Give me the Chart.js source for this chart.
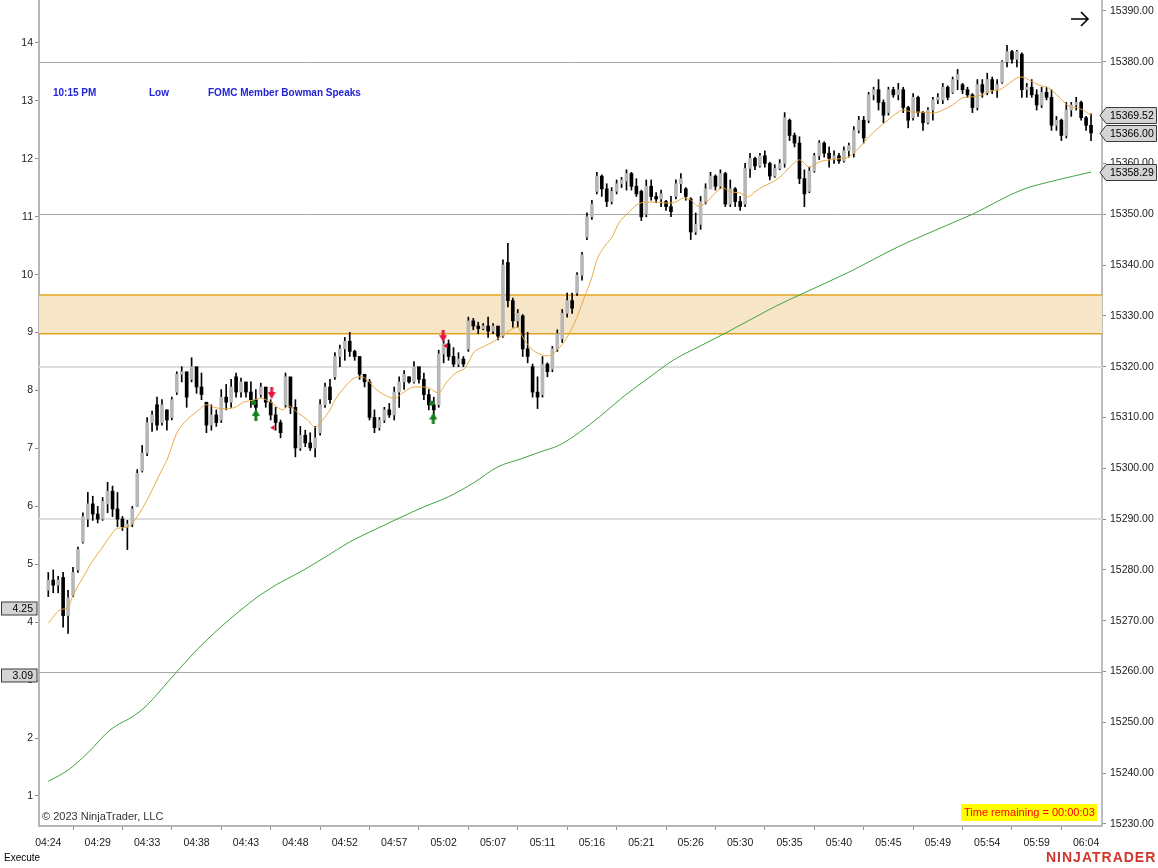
<!DOCTYPE html>
<html>
<head>
<meta charset="utf-8">
<script src="https://cdn.jsdelivr.net/npm/chart.js@4.4.0/dist/chart.umd.min.js"></script>
<style>
  html, body { margin: 0; padding: 0; background: #fff; }
  #wrap { position: relative; width: 1158px; height: 868px; }
</style>
</head>
<body>
<div id="wrap"><canvas id="priceChart" width="1158" height="868"></canvas></div>
<script>
// time labels, one every 10 bars starting at bar 1
const times = ["04:24", "04:29", "04:33", "04:38", "04:43", "04:48", "04:52", "04:57", "05:02", "05:07", "05:11",
  "05:16", "05:21", "05:26", "05:30", "05:35", "05:40", "05:45", "05:49", "05:54", "05:59", "06:04"];
const barsPerLabel = 10;
const firstBar = 1;

const priceTicks = [15390, 15380, 15370, 15360, 15350, 15340, 15330, 15320, 15310, 15300, 15290, 15280, 15270, 15260, 15250, 15240, 15230];
const leftTicks = [14, 13, 12, 11, 10, 9, 8, 7, 6, 5, 4, 3, 2, 1];

const opens = [
  15276, 15278, 15277, 15278.5, 15271, 15275, 15280, 15285.5, 15290, 15293,
  15291, 15290, 15293, 15295.5, 15292, 15290, 15288.5, 15289, 15292.5, 15299.5,
  15303, 15309, 15312.5, 15309, 15311.5, 15310, 15315, 15318.5, 15319, 15317.5,
  15320, 15316, 15313, 15308.5, 15310.5, 15309.5, 15314, 15313, 15318, 15315,
  15317, 15315, 15313.5, 15314.5, 15316, 15313, 15310.5, 15309, 15312.5, 15318,
  15312, 15304, 15306.5, 15305, 15304, 15307, 15312.5, 15316, 15318, 15322,
  15323.5, 15325, 15323, 15322, 15318.5, 15317, 15310, 15308, 15309.5, 15311.5,
  15310.5, 15315, 15317, 15318, 15317, 15320, 15317.5, 15314.5, 15312.5, 15312.5,
  15322.5, 15324.5, 15322, 15320.5, 15321.5, 15323.5, 15329, 15328, 15327.5, 15328,
  15327, 15328, 15326, 15340.5, 15333, 15329, 15330, 15323.5, 15320, 15315,
  15314.5, 15320.5, 15319.5, 15323.5, 15325.5, 15330.5, 15333, 15334.5, 15338, 15345.5,
  15349.5, 15354.5, 15357.5, 15355, 15352.5, 15354.5, 15356, 15356.5, 15358, 15355.5,
  15354.5, 15350, 15355.5, 15353.5, 15353, 15352.5, 15351.5, 15353.5, 15356, 15355,
  15353, 15346.5, 15348, 15352.5, 15355, 15357.5, 15355.5, 15358, 15352, 15355,
  15352.5, 15352, 15359, 15361, 15359.5, 15361.5, 15360, 15357.5, 15359, 15360,
  15368.5, 15365.5, 15364, 15357, 15354.5, 15358.5, 15361.5, 15364, 15362, 15361,
  15361.5, 15360.5, 15362.5, 15362, 15366.5, 15368.5, 15368.5, 15373.5, 15374.5, 15372,
  15370, 15374.5, 15373.5, 15374.5, 15371, 15369, 15373, 15370, 15368, 15370.5,
  15372.5, 15372.5, 15375, 15374, 15376.5, 15375.5, 15374.5, 15373.5, 15371, 15375.5,
  15374, 15376.5, 15374.5, 15376, 15380, 15382, 15380.5, 15381.5, 15374.5, 15375,
  15373.5, 15371.5, 15374, 15373, 15367.5, 15368.5, 15365.5, 15370.5, 15371.5, 15372,
  15369, 15367.5
];
const highs = [
  15279.5, 15280, 15278.75, 15279.5, 15276, 15280.5, 15284.5, 15291.25, 15295.25, 15294.5,
  15292.5, 15294.25, 15297.25, 15296.5, 15295.25, 15290.5, 15289.75, 15292.5, 15299.75, 15304.5,
  15310, 15311.25, 15314, 15313.5, 15311.5, 15314, 15319, 15320, 15318.75, 15321.75,
  15319.25, 15318.75, 15312.75, 15312.5, 15311.5, 15315.5, 15316.5, 15317.5, 15318.75, 15317.75,
  15316, 15317, 15315.5, 15316.75, 15315.5, 15313.5, 15312, 15309.5, 15318.75, 15317.5,
  15313.5, 15308.25, 15307.5, 15307, 15308.25, 15313.5, 15316.75, 15317.5, 15322.75, 15324.25,
  15325.75, 15326.75, 15323.25, 15322, 15318.25, 15317.5, 15311.5, 15310, 15312, 15312.75,
  15316, 15318, 15319.25, 15318, 15321, 15319.25, 15318.75, 15315.5, 15314, 15323.25,
  15325.25, 15325.25, 15323.75, 15322.75, 15322, 15329.75, 15329.5, 15328.75, 15328.5, 15329.75,
  15328.5, 15327.75, 15341, 15344.25, 15333.5, 15331.25, 15330.25, 15326.75, 15320.5, 15318,
  15322, 15320.75, 15324, 15327.25, 15331.25, 15334.5, 15334.5, 15338.5, 15342.5, 15350.25,
  15352.75, 15358.25, 15357.75, 15356, 15355.25, 15356.75, 15357.25, 15358.75, 15358.25, 15357,
  15354.75, 15356.75, 15356.75, 15354.25, 15354.75, 15352.75, 15353.5, 15356.75, 15358, 15355.25,
  15353.25, 15350.25, 15353.5, 15356, 15358.25, 15357.75, 15358.75, 15358.25, 15356.75, 15355.25,
  15353.5, 15360, 15362, 15361.25, 15362, 15362.5, 15360.25, 15359.75, 15360.75, 15370,
  15368.75, 15366, 15365.25, 15358.75, 15359.25, 15362, 15364.5, 15364.25, 15363.25, 15362.5,
  15362, 15363.25, 15364, 15367.25, 15369.25, 15369.25, 15374, 15375, 15376.5, 15372.5,
  15375, 15375, 15375.75, 15375, 15371.25, 15373.75, 15373.25, 15370.25, 15371, 15373,
  15373.75, 15375.75, 15375.25, 15377, 15378.5, 15375.75, 15375, 15373.75, 15376.5, 15376.5,
  15377.75, 15377, 15376.5, 15380.25, 15383.25, 15382.25, 15382.25, 15381.75, 15375.75, 15376.5,
  15374.5, 15375, 15375, 15374.5, 15369.25, 15368.75, 15372, 15372, 15373, 15372.25,
  15369.25, 15369.75
];
const lows = [
  15274.75, 15275.5, 15275.5, 15268.75, 15267.5, 15274.75, 15279.5, 15285.25, 15288.5, 15289.75,
  15289.25, 15289.75, 15291.25, 15290.5, 15288.5, 15287.75, 15284, 15288.5, 15292.5, 15299.25,
  15302.5, 15307.25, 15307.5, 15308.5, 15307.5, 15309.5, 15314.5, 15317, 15312, 15317,
  15314.75, 15313.5, 15307, 15307.5, 15308.25, 15309, 15311.5, 15312, 15314, 15314,
  15314, 15312, 15310, 15314, 15312, 15309.5, 15307.5, 15306, 15312, 15310.75,
  15302.25, 15303.5, 15304.25, 15303.5, 15302.25, 15306.5, 15312, 15312.75, 15317.5, 15320,
  15321.25, 15322, 15321.25, 15317.5, 15316, 15309.5, 15307, 15307.5, 15309, 15310,
  15309.5, 15312, 15315.5, 15316.75, 15316.75, 15316.75, 15313.5, 15311.5, 15310, 15312,
  15320.75, 15321.25, 15320, 15320, 15320, 15323, 15327.25, 15326.5, 15327.25, 15325.75,
  15326.5, 15325.25, 15325.75, 15331.75, 15327.75, 15327.75, 15322, 15320.75, 15314, 15311.75,
  15314, 15318, 15319, 15323, 15324.75, 15329.75, 15330.5, 15334, 15337, 15345,
  15349, 15354, 15353.5, 15351.5, 15352, 15354, 15355.25, 15354.75, 15354.75, 15353.5,
  15348.75, 15349.5, 15352.75, 15352.25, 15351.5, 15350.75, 15349.5, 15353, 15354.25, 15352.75,
  15345, 15346, 15347, 15352, 15355, 15354.75, 15355, 15351.5, 15351.5, 15351.5,
  15350.75, 15351.5, 15357.25, 15358.75, 15359.25, 15359.25, 15356.75, 15357.25, 15358.75, 15359.25,
  15364.5, 15363.25, 15356, 15351.5, 15354.25, 15358.25, 15360.75, 15361.25, 15359.25, 15360,
  15360, 15360.25, 15361.25, 15361.25, 15366, 15364, 15368, 15372.5, 15370.5, 15368,
  15369.5, 15373, 15372.5, 15370, 15367, 15368.5, 15369.25, 15366.5, 15367.75, 15368.5,
  15371.75, 15371.75, 15372.5, 15373.75, 15374.5, 15373.75, 15373, 15370, 15370.5, 15373,
  15373.5, 15373.75, 15373, 15375.75, 15379, 15379.75, 15379, 15373, 15373, 15373,
  15370.5, 15371, 15372.5, 15366.5, 15366.5, 15364.5, 15365, 15369.25, 15370.5, 15368.5,
  15366.5, 15364.5
];
const closes = [
  15278, 15277, 15278, 15271, 15274.5, 15279.5, 15284, 15290.5, 15293, 15291,
  15290, 15293.5, 15295.5, 15292, 15290, 15288.5, 15289, 15292, 15299, 15303,
  15309, 15310.5, 15308.5, 15312.5, 15309.5, 15313.5, 15318.5, 15319, 15314, 15320,
  15316, 15314.5, 15308.5, 15310.5, 15309, 15314, 15313, 15316, 15315, 15317,
  15315, 15313.5, 15312, 15316, 15313, 15310.5, 15309, 15307, 15318, 15312,
  15304, 15306.5, 15305, 15304, 15306, 15312.5, 15316, 15313.5, 15322, 15323.5,
  15325, 15323, 15322, 15318.5, 15317, 15310, 15308, 15309.5, 15311.5, 15310.5,
  15315, 15317, 15318.5, 15317, 15320, 15317.5, 15314.5, 15312.5, 15311.5, 15322.5,
  15324.5, 15322, 15320.5, 15321.5, 15320.5, 15329, 15328, 15327.5, 15328, 15327,
  15328, 15326, 15340, 15333, 15329, 15330.5, 15323.5, 15322, 15315, 15314,
  15320.5, 15319, 15323.5, 15326.5, 15330.5, 15333, 15331.5, 15338, 15342, 15349.5,
  15352, 15357.5, 15355, 15352.5, 15354.5, 15356, 15356.75, 15358, 15355.5, 15354,
  15349.5, 15355.5, 15353.5, 15353, 15354, 15351.5, 15350.5, 15356, 15357, 15353.5,
  15346.5, 15348, 15352.5, 15355, 15357.5, 15355.5, 15358, 15352, 15355, 15352.5,
  15351.5, 15359, 15361, 15359.5, 15361.5, 15360, 15357.5, 15359, 15360, 15369,
  15365.5, 15364, 15357, 15354, 15358.5, 15361.5, 15364, 15362, 15361, 15361.5,
  15360.5, 15362.5, 15363.5, 15366.5, 15368.5, 15365, 15373.5, 15374.5, 15372, 15369.5,
  15374.5, 15373.5, 15374.5, 15371, 15368.5, 15373, 15370, 15368, 15370.5, 15372.5,
  15373, 15375, 15373, 15376.5, 15377.5, 15374.5, 15373.5, 15371, 15375.5, 15374,
  15376.5, 15374.5, 15375.5, 15380, 15382, 15380.5, 15382, 15374.5, 15375, 15373.5,
  15371.5, 15374, 15373, 15367.5, 15368.5, 15365.5, 15370.5, 15371.5, 15372, 15369,
  15367.5, 15366
];

// orange EMA, read at bar positions
const emaX = [1, 3.5, 5, 6, 8, 10, 12, 14, 15, 17, 19, 20, 22, 24, 25, 27, 29, 31, 33, 35,
  37, 39, 40.5, 42.5, 44, 46, 48.5, 49.5, 51.5, 53.5, 55, 56.5, 58, 59, 61, 63, 64.5, 65.5, 67.5, 70,
  71, 73, 75, 77, 78, 80, 81.5, 83.5, 85.5, 87, 89, 91, 93, 94.5, 96, 97, 99, 101, 102, 104,
  106, 108, 109.5, 111, 112, 113.5, 115, 116.5, 118.5, 120, 122, 124, 126, 128, 129.5, 131, 132.5, 134, 136, 137.5,
  139, 141, 142.5, 144, 145.5, 147.5, 149.5, 151.5, 153, 155, 157, 159, 161, 163, 165, 167, 169, 170.5, 173, 174,
  176, 178, 180, 182, 184, 186, 188, 190, 192, 193.5, 195.5, 197, 198, 199.5, 201.5, 203.5, 205.5, 207.5, 209.5, 211, 212];
const emaY = [15269.5, 15272.2, 15272.6, 15275, 15278.5, 15281.8, 15284.5, 15287.3, 15288.2, 15288.4,
  15290.5, 15292, 15295.7, 15299.7, 15301.6, 15306.9, 15309.5, 15311.1, 15312.5, 15311.9,
  15311.7, 15312.1, 15313, 15313.4, 15313.8, 15313, 15311.5, 15312.3, 15310.9, 15309.5,
  15308.1, 15309.5, 15311.5, 15313.4, 15316, 15317.8, 15318, 15317.4, 15315.4, 15314,
  15313.8, 15315, 15316, 15316, 15315.8, 15314.8, 15316.8, 15318.8, 15319.9, 15322.7,
  15323.9, 15324.9, 15326.2, 15327.2, 15327.8, 15325.8, 15323.3, 15322.3, 15322.1, 15323.3,
  15325.8, 15329.8, 15333.7, 15337.6, 15341, 15343.6, 15345.4, 15348.3, 15350.4, 15351.8,
  15352.4, 15352.4, 15352.2, 15352.4, 15353.2, 15352.8, 15351.6, 15352.2, 15354.2, 15355.2,
  15354.4, 15354.2, 15353.4, 15354.4, 15355.4, 15356.3, 15357.7, 15359.7, 15360.7, 15359.3,
  15360.3, 15360.7, 15360.9, 15361.3, 15363, 15365.2, 15367, 15368.2, 15370.1, 15370.5,
  15370.1, 15370.1, 15369.9, 15370.5, 15371.5, 15372.9, 15373.1, 15373.5, 15374.3, 15374.5,
  15375.8, 15376.8, 15377, 15376.4, 15375.4, 15374.8, 15373.1, 15371.3, 15370.9, 15370.1,
  15369.52];

// green SMA
const smaX = [1, 5, 9, 13.5, 18.5, 21, 25.5, 32, 42, 47, 52, 57, 62, 67, 72, 77, 82, 87, 92, 96.5,
  100.5, 104.5, 108.5, 112.5, 117.5, 122.5, 127.5, 133, 138, 143, 148, 153, 163, 173, 183, 188, 198, 205, 212];
const smaY = [15238.4, 15240.6, 15244.0, 15248.5, 15251.4, 15253.4, 15258.3, 15265.2, 15273.7, 15277.0,
  15279.6, 15282.5, 15285.5, 15287.9, 15290.2, 15292.4, 15294.4, 15297.1, 15300.3, 15301.8,
  15303.2, 15304.6, 15307.1, 15310.1, 15314.2, 15317.8, 15321.3, 15324.1, 15326.6, 15329.2,
  15331.8, 15334.1, 15338.6, 15343.6, 15347.9, 15350.0, 15354.8, 15356.7, 15358.29];

// horizontal levels and the shaded zone
const darkLevels = [15380, 15350, 15260];
const lightLevels = [15320, 15290];
const zone = [15326.5, 15334.1];

// price boxes on the right (ema, last, sma) and indicator boxes on the left
const priceMarkers = [15369.52, 15366.00, 15358.29];
const leftMarkers = [4.25, 3.09];

// trade signals
const sellArrowX = [46.2, 80.9];
const sellArrowY = [15314.8, 15326.0];
const buyArrowX = [43.0, 78.9];
const buyArrowY = [15310.5, 15309.8];
const exitMarkX = [46.5, 81.5];
const exitMarkY = [15308.0, 15324.1];
const entryMarkX = [42.6, 78.6];
const entryMarkY = [15312.9, 15312.8];

const eventTexts = ["10:15 PM", "Low", "FOMC Member Bowman Speaks"];

const FONT = "'Liberation Sans', Arial, sans-serif";

function zip(xs, ys) {
  return xs.map((x, k) => ({ x: x, y: ys[k] }));
}

function arrowIcon(color, down) {
  const c = document.createElement("canvas");
  c.width = 8;
  c.height = 12;
  const g = c.getContext("2d");
  g.fillStyle = color;
  if (!down) { g.translate(0, 12); g.scale(1, -1); }
  g.fillRect(2.5, 0, 3, 6);
  g.beginPath();
  g.moveTo(0, 5); g.lineTo(8, 5); g.lineTo(4, 12);
  g.closePath();
  g.fill();
  return c;
}

// no label padding around the plot, the frame goes to the canvas top
function noPadding(s) {
  s.paddingTop = 0;
  s.paddingBottom = 0;
  s.paddingLeft = 0;
  s.paddingRight = 0;
}

// zone + level lines under the bars
const levelsPlugin = {
  id: "levels",
  beforeDatasetsDraw(chart) {
    const { ctx, chartArea: a } = chart;
    const y = chart.scales.y;
    const line = (p, color, w) => {
      ctx.strokeStyle = color;
      ctx.lineWidth = w;
      ctx.beginPath();
      ctx.moveTo(a.left, p);
      ctx.lineTo(a.right, p);
      ctx.stroke();
    };
    ctx.save();
    lightLevels.forEach(v => line(Math.round(y.getPixelForValue(v)), "#dedede", 2));
    darkLevels.forEach(v => line(Math.round(y.getPixelForValue(v)) + 0.5, "#a6a6a6", 1));
    const zt = y.getPixelForValue(zone[1]);
    const zb = y.getPixelForValue(zone[0]);
    ctx.fillStyle = "#f6e6c7";
    ctx.fillRect(a.left, zt, a.right - a.left, zb - zt);
    line(zt, "#e2a31c", 1.5);
    line(zb, "#e2a31c", 1.5);
    ctx.restore();
  }
};

// labels, price boxes, footer texts
const overlayPlugin = {
  id: "overlay",
  afterDraw(chart) {
    const { ctx, chartArea: a } = chart;
    const y = chart.scales.y;
    const yl = chart.scales.yl;
    ctx.save();
    ctx.textBaseline = "middle";

    // event line
    ctx.font = "bold 10px " + FONT;
    ctx.fillStyle = "#2323d8";
    [53, 149, 208].forEach((x, k) => ctx.fillText(eventTexts[k], x, 93));

    // right price boxes
    ctx.font = "10.5px " + FONT;
    priceMarkers.forEach(v => {
      const p = Math.round(y.getPixelForValue(v)) + 0.5;
      ctx.beginPath();
      ctx.moveTo(a.right - 2, p);
      ctx.lineTo(a.right + 4, p - 8);
      ctx.lineTo(1156.5, p - 8);
      ctx.lineTo(1156.5, p + 8);
      ctx.lineTo(a.right + 4, p + 8);
      ctx.closePath();
      ctx.fillStyle = "#d4d4d4";
      ctx.fill();
      ctx.strokeStyle = "#3a3a3a";
      ctx.lineWidth = 1;
      ctx.stroke();
      ctx.fillStyle = "#000";
      ctx.textAlign = "left";
      ctx.fillText(v.toFixed(2), 1110, p + 0.5);
    });

    // left indicator boxes
    leftMarkers.forEach(v => {
      const p = Math.round(yl.getPixelForValue(v)) + 0.5;
      ctx.fillStyle = "#d4d4d4";
      ctx.fillRect(1.5, p - 6.5, 35.5, 13);
      ctx.strokeStyle = "#3a3a3a";
      ctx.strokeRect(1.5, p - 6.5, 35.5, 13);
      ctx.fillStyle = "#000";
      ctx.textAlign = "right";
      ctx.fillText(v.toFixed(2), 33, p + 0.5);
    });

    // arrow top right
    ctx.strokeStyle = "#000";
    ctx.lineWidth = 1.6;
    ctx.beginPath();
    ctx.moveTo(1071, 19); ctx.lineTo(1088, 19);
    ctx.moveTo(1081, 12); ctx.lineTo(1088, 19); ctx.lineTo(1081, 26);
    ctx.stroke();

    // copyright and timer
    ctx.textAlign = "left";
    ctx.font = "11px " + FONT;
    ctx.fillStyle = "#333";
    ctx.fillText("\u00a9 2023 NinjaTrader, LLC", 42, 817);
    ctx.fillStyle = "#ffff00";
    ctx.fillRect(961, 804, 136, 17);
    ctx.fillStyle = "#ff0000";
    ctx.fillText("Time remaining = 00:00:03", 964, 813);

    // footer
    ctx.font = "10px " + FONT;
    ctx.fillStyle = "#000";
    ctx.fillText("Execute", 4, 858);
    ctx.font = "bold 14px " + FONT;
    ctx.fillStyle = "#d0362b";
    if ("letterSpacing" in ctx) ctx.letterSpacing = "1px";
    ctx.fillText("NINJATRADER", 1046, 858);
    ctx.restore();
  }
};

class PriceChart {
  constructor() {
    this.chart = null;
    this.init();
  }

  init() {
    const ctx = document.getElementById("priceChart").getContext("2d");
    this.chart = new Chart(ctx, {
      type: "bar",
      data: { datasets: this.buildDatasets() },
      options: this.buildOptions(),
      plugins: [levelsPlugin, overlayPlugin]
    });
  }

  buildDatasets() {
    const bars = opens.map((o, k) => ({ x: firstBar + k, o: o, h: highs[k], l: lows[k], c: closes[k] }));
    return [
      {
        type: "line", label: "EMA", data: zip(emaX, emaY), yAxisID: "y",
        borderColor: "#eaa944", borderWidth: 1, pointRadius: 0,
        cubicInterpolationMode: "monotone", order: 0
      },
      {
        type: "line", label: "SMA", data: zip(smaX, smaY), yAxisID: "y",
        borderColor: "#3fa33f", borderWidth: 1, pointRadius: 0,
        cubicInterpolationMode: "monotone", order: 0
      },
      {
        label: "Body", data: bars.map(b => ({ x: b.x, y: [b.o, b.c] })), yAxisID: "y",
        backgroundColor: bars.map(b => b.c >= b.o ? "#b7b7b7" : "#000000"),
        barThickness: 3, minBarLength: 1, grouped: false, order: 2
      },
      {
        label: "Wick", data: bars.map(b => ({ x: b.x, y: [b.l, b.h] })), yAxisID: "y",
        backgroundColor: "#000", barThickness: 1, grouped: false, order: 3
      },
      {
        type: "scatter", label: "Sell", data: zip(sellArrowX, sellArrowY), yAxisID: "y",
        pointStyle: arrowIcon("#e5163d", true), order: -1
      },
      {
        type: "scatter", label: "Buy", data: zip(buyArrowX, buyArrowY), yAxisID: "y",
        pointStyle: arrowIcon("#16801c", false), order: -1
      },
      {
        type: "scatter", label: "Exit", data: zip(exitMarkX, exitMarkY), yAxisID: "y",
        pointStyle: "triangle", rotation: -90, radius: 3,
        backgroundColor: "#e5163d", borderWidth: 0, order: -1
      },
      {
        type: "scatter", label: "Entry", data: zip(entryMarkX, entryMarkY), yAxisID: "y",
        pointStyle: "circle", radius: 2.5,
        backgroundColor: "#16801c", borderWidth: 0, order: -1
      }
    ];
  }

  buildOptions() {
    const tickFont = { family: FONT, size: 10.5 };
    return {
      responsive: false,
      animation: false,
      events: [],
      layout: { padding: 0, autoPadding: false },
      plugins: { legend: { display: false }, tooltip: { enabled: false } },
      scales: {
        x: {
          type: "linear",
          min: -0.88,
          max: 214.22,
          offset: false,
          afterBuildTicks: s => { s.ticks = times.map((t, k) => ({ value: firstBar + k * barsPerLabel })); },
          afterFit: s => { s.height = 42; noPadding(s); },
          ticks: {
            callback: (v, i) => times[i],
            autoSkip: false, maxRotation: 0, padding: 7,
            color: "#1a1a1a", font: tickFont
          },
          grid: { drawOnChartArea: false, tickLength: 4, color: "#8c8c8c" },
          border: { color: "#b6b6b6", width: 2 }
        },
        y: {
          position: "right",
          min: 15229.6,
          max: 15392.16,
          afterBuildTicks: s => { s.ticks = priceTicks.map(v => ({ value: v })); },
          afterFit: s => { s.width = 56; noPadding(s); },
          ticks: {
            callback: v => v.toFixed(2),
            autoSkip: false, padding: 4,
            color: "#1a1a1a", font: tickFont
          },
          grid: { drawOnChartArea: false, tickLength: 4, color: "#8c8c8c" },
          border: { color: "#bcbcbc", width: 2 }
        },
        yl: {
          position: "left",
          min: 0.482,
          max: 14.742,
          afterBuildTicks: s => { s.ticks = leftTicks.map(v => ({ value: v })); },
          afterFit: s => { s.width = 39; noPadding(s); },
          ticks: {
            autoSkip: false, padding: 2,
            color: "#1a1a1a", font: tickFont
          },
          grid: { drawOnChartArea: false, tickLength: 4, color: "#8c8c8c" },
          border: { color: "#b6b6b6", width: 2 }
        }
      }
    };
  }
}

window.addEventListener("DOMContentLoaded", () => new PriceChart());
</script>
</body>
</html>
